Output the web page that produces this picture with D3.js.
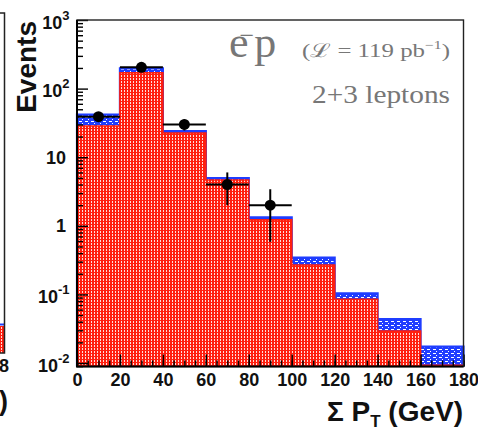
<!DOCTYPE html>
<html>
<head>
<meta charset="utf-8">
<script src="https://cdn.jsdelivr.net/npm/d3@7"></script>
<style>
  body { margin: 0; background: #fff; }
  svg { display: block; }
  .tick text { font-family: "Liberation Sans", Arial, sans-serif; font-weight: bold; }
</style>
</head>
<body>
<svg id="chart" width="478" height="430"></svg>
<script>
// Sum of lepton transverse momenta, e−p sample, events with 2 or 3 leptons

const binEdges = [0, 20, 40, 60, 80, 100, 120, 140, 160, 180];
// Expected events per bin: main (red) component and additional (blue) component stacked on top
const redExpected  = [28.5, 170.6, 22.5, 4.66, 1.22, 0.268, 0.085, 0.0292, 0.0093];
const blueExpected = [13.4, 27.0, 1.6, 0.32, 0.11, 0.075, 0.019, 0.0146, 0.008];
// Observed events per bin
const observed = [39, 204, 30, 4, 2, 0, 0, 0, 0];

const xTickValues = [0, 20, 40, 60, 80, 100, 120, 140, 160, 180];
const xMinorTicks = d3.range(0, 181, 5);
const yTickValues = [1e-2, 1e-1, 1, 10, 1e2, 1e3];
const yTickBase   = ["10", "10", "1", "10", "10", "10"];
const yTickExp    = ["-2", "-1", "", "", "2", "3"];

const svg = d3.select("#chart");

const x = d3.scaleLinear().domain([0, 180]).range([77, 463.5]);
const y = d3.scaleLog().domain([0.0089, 1000]).range([366.5, 20]);
const yBottom = y.range()[0];

// fill patterns
const defs = svg.append("defs");
const redPat = defs.append("pattern").attr("id", "redFill")
  .attr("patternUnits", "userSpaceOnUse").attr("width", 3).attr("height", 3);
redPat.append("rect").attr("width", 3).attr("height", 3).attr("fill", "#ff1f0f");
redPat.append("rect").attr("x", 1).attr("y", 0).attr("width", 1).attr("height", 2).attr("fill", "#fff").attr("opacity", 0.85);

const bluePat = defs.append("pattern").attr("id", "blueFill")
  .attr("patternUnits", "userSpaceOnUse").attr("width", 6).attr("height", 4);
bluePat.append("rect").attr("width", 6).attr("height", 4).attr("fill", "#1f3dff");
bluePat.append("rect").attr("x", 1).attr("y", 1).attr("width", 3).attr("height", 1).attr("fill", "#fff");
bluePat.append("rect").attr("x", 4).attr("y", 3).attr("width", 1).attr("height", 1).attr("fill", "#fff");

// step histograms
const totals = redExpected.map((r, i) => r + blueExpected[i]);
function stepPoints(vals) {
  return binEdges.map((e, i) => [e, vals[Math.min(i, vals.length - 1)]]);
}
const area = d3.area()
  .curve(d3.curveStepAfter)
  .x(d => x(d[0]))
  .y0(yBottom)
  .y1(d => Math.min(yBottom, y(d[1])));
const outline = d3.line()
  .curve(d3.curveStepAfter)
  .x(d => x(d[0]))
  .y(d => d[1] === null ? yBottom : Math.min(yBottom, y(d[1])));
function outlinePoints(vals) {
  const pts = stepPoints(vals);
  return [[0, null]].concat(pts).concat([[180, null]]);
}

const hist = svg.append("g");
hist.append("path").datum(stepPoints(totals)).attr("d", area).attr("fill", "url(#blueFill)");
hist.append("path").datum(outlinePoints(totals)).attr("d", outline)
  .attr("fill", "none").attr("stroke", "#1f3dff").attr("stroke-width", 2.2);
hist.append("path").datum(stepPoints(redExpected)).attr("d", area).attr("fill", "url(#redFill)");
hist.append("path").datum(outlinePoints(redExpected)).attr("d", outline)
  .attr("fill", "none").attr("stroke", "#ff1f0f").attr("stroke-width", 1.6);

// axes
const yMajor = d3.axisLeft(y).tickValues(yTickValues).tickSize(-11).tickFormat(() => "");
const yMinorVals = [];
for (let p = -3; p < 3; p++) for (let m = 2; m <= 9; m++) {
  const v = m * Math.pow(10, p);
  if (v >= y.domain()[0] && v <= 1000) yMinorVals.push(v);
}
const yMinor = d3.axisLeft(y).tickValues(yMinorVals).tickSize(-6).tickFormat(() => "");
const xMajor = d3.axisBottom(x).tickValues(xTickValues).tickSize(-12).tickPadding(7).tickFormat(d3.format("d"));
const xMinor = d3.axisBottom(x).tickValues(xMinorTicks).tickSize(-6).tickFormat(() => "");

function styleAxis(g) {
  g.select(".domain").remove();
  g.selectAll(".tick line").attr("stroke", "#000").attr("stroke-width", 1.4);
}
svg.append("g").attr("transform", `translate(${x(0)},0)`).call(yMinor).call(styleAxis);
svg.append("g").attr("transform", `translate(${x(0)},0)`).call(yMajor).call(styleAxis);
svg.append("g").attr("transform", `translate(0,${yBottom})`).call(xMinor).call(styleAxis);
const xg = svg.append("g").attr("transform", `translate(0,${yBottom})`).call(xMajor).call(styleAxis);
xg.selectAll(".tick text").attr("font-size", 18).attr("fill", "#111");

// y tick labels with exponents
const yLab = svg.append("g")
  .attr("font-family", "Liberation Sans, Arial, sans-serif")
  .attr("font-weight", "bold").attr("fill", "#111");
yTickValues.forEach((v, i) => {
  const hasExp = yTickExp[i] !== "";
  const t = yLab.append("text")
    .attr("x", hasExp ? 69.5 : 66)
    .attr("y", y(v) + (hasExp ? 8.5 : 6.5))
    .attr("text-anchor", "end")
    .attr("font-size", 18);
  t.append("tspan").text(yTickBase[i]);
  if (hasExp) t.append("tspan").attr("font-size", 13).attr("dy", -9).text(yTickExp[i]);
});

// frame
svg.append("rect")
  .attr("x", x(0)).attr("y", y(1000))
  .attr("width", x(180) - x(0)).attr("height", yBottom - y(1000))
  .attr("fill", "none").attr("stroke", "#222").attr("stroke-width", 1.4);
svg.append("path")
  .attr("d", `M${x(0)},${y(1000)} V${yBottom} H${x(180)}`)
  .attr("fill", "none").attr("stroke", "#000").attr("stroke-width", 2);

// observed data with errors
const centers = binEdges.slice(0, -1).map((e, i) => (e + binEdges[i + 1]) / 2);
const pts = observed.map((n, i) => ({ n, lo: binEdges[i], hi: binEdges[i + 1], c: centers[i] }))
  .filter(d => d.n > 0);
const dg = svg.append("g").attr("stroke", "#000").attr("stroke-width", 2);
pts.forEach(d => {
  const e = Math.sqrt(d.n);
  dg.append("line").attr("x1", x(d.lo)).attr("x2", x(d.hi)).attr("y1", y(d.n)).attr("y2", y(d.n));
  dg.append("line").attr("x1", x(d.c)).attr("x2", x(d.c)).attr("y1", y(d.n + e)).attr("y2", y(Math.max(d.n - e, y.domain()[0])));
  dg.append("circle").attr("cx", x(d.c)).attr("cy", y(d.n)).attr("r", 5.5).attr("fill", "#000").attr("stroke", "none");
});

// axis titles
svg.append("text")
  .attr("transform", "translate(36,21) rotate(-90)")
  .attr("text-anchor", "end")
  .attr("font-family", "Liberation Sans, Arial, sans-serif")
  .attr("font-weight", "bold").attr("font-size", 28).attr("fill", "#111")
  .text("Events");

const xt = svg.append("text")
  .attr("x", 463).attr("y", 421)
  .attr("text-anchor", "end")
  .attr("font-family", "Liberation Sans, Arial, sans-serif")
  .attr("font-weight", "bold").attr("font-size", 28).attr("fill", "#111");
xt.append("tspan").text("Σ P");
xt.append("tspan").attr("font-size", 17).attr("dy", 6).text("T");
xt.append("tspan").attr("dy", -6).text(" (GeV)");

// annotations
const ann = svg.append("g").attr("font-family", "Liberation Serif, Times New Roman, serif").attr("fill", "#777");
const beam = ann.append("text").attr("x", 229).attr("y", 57).attr("font-size", 44);
beam.append("tspan").text("e");
beam.append("tspan").attr("font-size", 26).attr("dx", -9).attr("dy", -13).text("−");
beam.append("tspan").attr("dx", 0).attr("dy", 13).text("p");
const lum = ann.append("text").attr("x", 302).attr("y", 57).attr("font-size", 19)
  .attr("textLength", 148).attr("lengthAdjust", "spacingAndGlyphs");
lum.append("tspan").text("(ℒ = 119 pb");
lum.append("tspan").attr("font-size", 12).attr("dy", -8).text("−1");
lum.append("tspan").attr("dy", 8).text(")");
ann.append("text").attr("x", 312).attr("y", 103).attr("font-size", 26)
  .attr("textLength", 138).attr("lengthAdjust", "spacingAndGlyphs").text("2+3 leptons");

// edge of the neighbouring panel
const side = svg.append("g");
side.append("rect").attr("x", 0).attr("y", 326).attr("width", 4.5).attr("height", 27).attr("fill", "url(#redFill)");
side.append("line").attr("x1", 0).attr("x2", 4.5).attr("y1", 324.5).attr("y2", 324.5).attr("stroke", "#1f3dff").attr("stroke-width", 2);
side.append("path").attr("d", "M0,13 H4.5 V353 H0").attr("fill", "none").attr("stroke", "#222").attr("stroke-width", 1.5);
side.append("text").attr("x", 9).attr("y", 372).attr("text-anchor", "end")
  .attr("font-family", "Liberation Sans, Arial, sans-serif").attr("font-weight", "bold").attr("font-size", 18).attr("fill", "#111").text("8");
side.append("text").attr("x", 8).attr("y", 410).attr("text-anchor", "end")
  .attr("font-family", "Liberation Sans, Arial, sans-serif").attr("font-weight", "bold").attr("font-size", 27).attr("fill", "#111").text(")");
</script>
</body>
</html>
